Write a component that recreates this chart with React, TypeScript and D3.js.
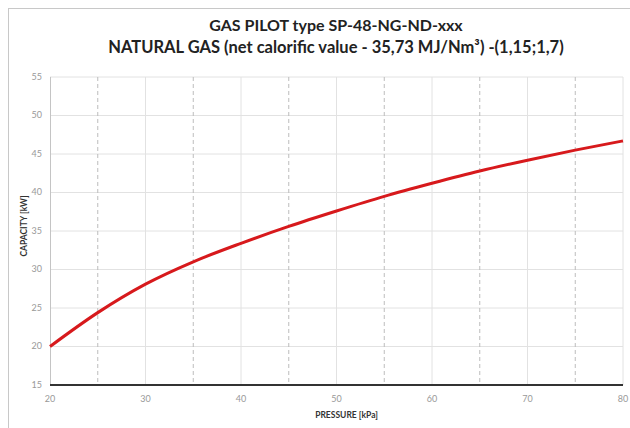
import React from 'react'
import * as d3 from 'd3'

// pressure [kPa] and capacity [kW], every 5 kPa
const pressure = [20, 25, 30, 35, 40, 45, 50, 55, 60, 65, 70, 75, 80]
const capacity = [20.0, 24.4, 28.1, 31.0, 33.4, 35.6, 37.6, 39.5, 41.2, 42.8, 44.2, 45.5, 46.7]

const xTicks = [20, 30, 40, 50, 60, 70, 80]
const xMinor = [25, 35, 45, 55, 65, 75]
const yTicks = [15, 20, 25, 30, 35, 40, 45, 50, 55]

const titleLines = ['GAS PILOT type SP-48-NG-ND-xxx', 'NATURAL GAS (net calorific value - 35,73 MJ/Nm³) -(1,15;1,7)']

const W = 630
const H = 428
const margin = { top: 77, right: 7, bottom: 43, left: 50 }
const font = 'Lato, "Open Sans", sans-serif'

export default function App() {
    const iw = W - margin.left - margin.right
    const ih = H - margin.top - margin.bottom

    const x = d3.scaleLinear().domain([20, 80]).range([0, iw])
    const y = d3.scaleLinear().domain([15, 55]).range([ih, 0])

    const points = pressure.map((p, i) => [p, capacity[i]] as [number, number])
    const line = d3.line<[number, number]>()
        .x((d) => x(d[0]))
        .y((d) => y(d[1]))
        .curve(d3.curveMonotoneX)

    return (
        <svg width={W} height={H} style={{ position: 'absolute', left: 0, top: 0, background: '#fff' }}>
            {/* outer frame */}
            <line x1={8.5} x2={8.5} y1={8} y2={H} stroke="#c8c8c8" />
            <line x1={8} x2={W} y1={8.5} y2={8.5} stroke="#c8c8c8" />

            <g fontFamily={font} fontWeight="bold" fill="#222" textAnchor="middle">
                <text x={336} y={31} fontSize={16}>{titleLines[0]}</text>
                <text x={336} y={53} fontSize={16.5}>{titleLines[1]}</text>
            </g>

            <g transform={`translate(${margin.left},${margin.top})`}>
                {/* horizontal grid */}
                {yTicks.map((t) => (
                    <line key={'h' + t} x1={0} x2={iw} y1={y(t)} y2={y(t)} stroke="#e2e2e2" />
                ))}
                {/* major vertical grid */}
                {xTicks.slice(1).map((t) => (
                    <line key={'v' + t} x1={x(t)} x2={x(t)} y1={0} y2={ih} stroke="#e2e2e2" />
                ))}
                {/* minor vertical grid, dashed */}
                {xMinor.map((t) => (
                    <line key={'m' + t} x1={x(t)} x2={x(t)} y1={0} y2={ih} stroke="#bdbdbd" strokeDasharray="4,3" />
                ))}
                {/* left axis */}
                <line x1={0.5} x2={0.5} y1={0} y2={ih} stroke="#c4c4c4" />
                {/* bottom axis */}
                <line x1={0} x2={iw} y1={ih} y2={ih} stroke="#333" strokeWidth={2} />

                {/* curve */}
                <path d={line(points) || ''} fill="none" stroke="#d7191c" strokeWidth={3} />

                {/* tick labels */}
                <g fontFamily={font} fontSize={9} fill="#999">
                    {yTicks.map((t) => (
                        <text key={'yl' + t} x={-8} y={y(t)} dy="0.32em" textAnchor="end">{t}</text>
                    ))}
                    {xTicks.map((t) => (
                        <text key={'xl' + t} x={x(t)} y={ih + 17} textAnchor="middle">{t}</text>
                    ))}
                </g>

                <text x={iw / 2 + 10} y={ih + 33} textAnchor="middle" fontFamily={font} fontWeight="bold" fontSize={8.5} fill="#333">
                    PRESSURE [kPa]
                </text>
                <text transform={`translate(-23,${ih / 2 - 5}) rotate(-90)`} textAnchor="middle" fontFamily={font} fontWeight="bold" fontSize={8.5} fill="#333">
                    CAPACITY [kW]
                </text>
            </g>
        </svg>
    )
}
